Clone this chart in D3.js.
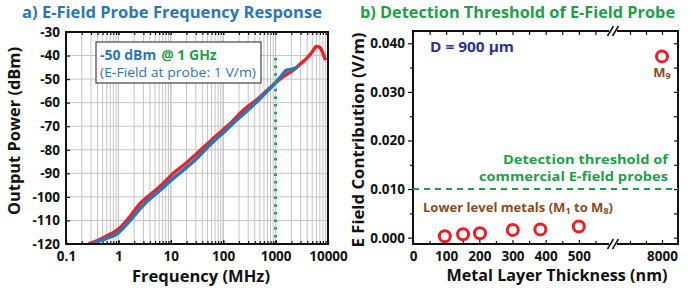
<!DOCTYPE html>
<html>
<head>
<meta charset="utf-8">
<script src="https://cdn.jsdelivr.net/npm/d3@7"></script>
<style>
  body { margin: 0; background: #fff; }
  svg { display: block; font-family: "Open Sans", "DejaVu Sans", sans-serif; }
</style>
</head>
<body>
<svg id="chart" width="699" height="293"></svg>
<script>
// ---- data: panel a (frequency response) ----
const freqTicks = [0.1, 1, 10, 100, 1000, 10000];
const freqTickLabels = ["0.1", "1", "10", "100", "1000", "10000"];
const powerTicks = [-120, -110, -100, -90, -80, -70, -60, -50, -40, -30];

const redFreq  = [0.27, 0.45, 0.7, 0.9, 1.2, 1.6, 2, 2.6, 3.5, 5, 8, 10, 20, 30, 50, 70, 100, 150, 200, 300, 400, 600, 800, 1000, 1500, 2000, 2500, 3000, 4000, 5000, 6000, 7000, 8000, 9000];
const redPower = [-120, -118, -115.8, -114.5, -112, -108.8, -106, -102.8, -100.2, -97.4, -93.2, -91, -85.5, -82, -77.5, -74.5, -71.5, -68, -65, -61.5, -59.5, -56, -53.5, -51.5, -48.5, -46.8, -45, -43.5, -41, -38.5, -36.2, -36.6, -39, -42];
const blueFreq  = [0.3, 0.45, 0.7, 0.9, 1.2, 1.6, 2, 2.6, 3.5, 5, 8, 10, 20, 30, 50, 70, 100, 150, 200, 300, 400, 600, 800, 1000, 1300, 1600, 2000, 2400, 2800];
const bluePower = [-120.3, -118.6, -117, -116, -113.5, -110.5, -108, -105, -102, -99, -95, -93, -87.5, -84, -79, -75.8, -72.8, -69, -66.5, -63, -60.5, -56.5, -53.8, -51.5, -48.5, -46.3, -45.8, -45.3, -44.3];
const markerFreq = 1000;

// ---- data: panel b (detection threshold) ----
const thicknessTicks = [0, 100, 200, 300, 400, 500, 8000];
const thicknessMinor = [50, 150, 250, 350, 450, 550, 7900, 7950];
const fieldTicks = [0, 0.01, 0.02, 0.03, 0.04];
const fieldMinor = [0.005, 0.015, 0.025, 0.035];
const lowerThickness = [96, 151, 202, 301, 384, 500];
const lowerField = [0.0003, 0.0007, 0.0009, 0.0016, 0.0017, 0.0023];
const topThickness = [8000];
const topField = [0.0373];
const thresholdField = 0.010;

const BLUE = "#2e75b6", GREEN = "#1f9e4b", RED = "#e3262d", BROWN = "#8a4b1e", NAVY = "#2e3192";

const svg = d3.select("#chart");

// helper: text squeezed to a width
function label(g, x, y, txt, opts) {
  const t = g.append("text")
    .attr("x", x).attr("y", y)
    .attr("font-size", opts.size)
    .attr("font-weight", opts.weight || "bold")
    .attr("fill", opts.color || "#111")
    .attr("text-anchor", opts.anchor || "start")
    .text(txt);
  if (opts.rotate) t.attr("transform", `rotate(-90,${x},${y})`);
  if (opts.width) t.attr("textLength", opts.width).attr("lengthAdjust", "spacingAndGlyphs");
  return t;
}

function styleAxis(sel) {
  sel.select(".domain").remove();
  sel.selectAll("line").attr("stroke", "#111").attr("stroke-width", 1.2);
  sel.selectAll("text").attr("font-size", 13.5).attr("font-weight", "bold").attr("fill", "#111")
    .attr("font-family", "'Open Sans', sans-serif");
}

// ================= panel a =================
const A = { left: 66, right: 328, top: 32, bottom: 244 };
const xA = d3.scaleLog().domain([0.1, 10000]).range([A.left, A.right]);
const yA = d3.scaleLinear().domain([-120, -30]).range([A.bottom, A.top]);
const gA = svg.append("g");

label(gA, 22, 18, "a) E-Field Probe Frequency Response", { size: 16, color: BLUE, width: 300 });

// grid
const minorFreqs = [];
[0.1, 1, 10, 100, 1000].forEach(d => { for (let k = 1; k <= 10; k++) minorFreqs.push(d * k); });
gA.append("g").selectAll("line").data(minorFreqs).join("line")
  .attr("x1", d => xA(d)).attr("x2", d => xA(d))
  .attr("y1", A.top).attr("y2", A.bottom)
  .attr("stroke", "#c4c4c4").attr("stroke-width", 1);
gA.append("g").selectAll("line").data(powerTicks).join("line")
  .attr("x1", A.left).attr("x2", A.right)
  .attr("y1", d => yA(d)).attr("y2", d => yA(d))
  .attr("stroke", "#c4c4c4").attr("stroke-width", 1);

// minor ticks along top and bottom
gA.append("g").attr("transform", `translate(0,${A.top})`)
  .call(d3.axisTop(xA).tickValues(minorFreqs).tickSize(-3).tickFormat(""))
  .call(styleAxis);
gA.append("g").attr("transform", `translate(0,${A.bottom})`)
  .call(d3.axisBottom(xA).tickValues(minorFreqs).tickSize(-3).tickFormat(""))
  .call(styleAxis);

// clip
svg.append("defs").append("clipPath").attr("id", "clipA")
  .append("rect").attr("x", A.left).attr("y", A.top)
  .attr("width", A.right - A.left).attr("height", A.bottom - A.top);

const lineA = d3.line().x(d => xA(d[0])).y(d => yA(d[1])).curve(d3.curveMonotoneX);
const curves = gA.append("g").attr("clip-path", "url(#clipA)");
curves.append("path").datum(d3.zip(redFreq, redPower))
  .attr("d", lineA).attr("fill", "none").attr("stroke", RED)
  .attr("stroke-width", 3.5).attr("stroke-linejoin", "round");
curves.append("path").datum(d3.zip(blueFreq, bluePower))
  .attr("d", lineA).attr("fill", "none").attr("stroke", BLUE)
  .attr("stroke-width", 3.5).attr("stroke-linejoin", "round");

// 1 GHz marker
gA.append("line")
  .attr("x1", xA(markerFreq)).attr("x2", xA(markerFreq))
  .attr("y1", yA(-41)).attr("y2", A.bottom)
  .attr("stroke", "#22a34c").attr("stroke-width", 3)
  .attr("stroke-dasharray", "2.5,5.2");

// info box
gA.append("rect").attr("x", 96).attr("y", 42).attr("width", 165).attr("height", 41)
  .attr("fill", "#fff").attr("stroke", "#444").attr("stroke-width", 1.2);
const t1 = label(gA, 100, 60, "-50 dBm", { size: 14, color: BLUE });
const w1 = t1.node().getComputedTextLength();
label(gA, 100 + w1 + 5, 60, "@ 1 GHz", { size: 14, color: GREEN });
label(gA, 100, 77, "(E-Field at probe: 1 V/m)", { size: 13.5, weight: "normal", color: BLUE, width: 156 });

// frame
gA.append("rect").attr("x", A.left).attr("y", A.top)
  .attr("width", A.right - A.left).attr("height", A.bottom - A.top)
  .attr("fill", "none").attr("stroke", "#111").attr("stroke-width", 2);

// axes
gA.append("g").attr("transform", `translate(${A.left},0)`)
  .call(d3.axisLeft(yA).tickValues(powerTicks).tickFormat(d => String(d)).tickSize(-4).tickPadding(6))
  .call(styleAxis);
gA.append("g").attr("transform", `translate(0,${A.bottom})`)
  .call(d3.axisBottom(xA).tickValues(freqTicks)
    .tickFormat((d, i) => freqTickLabels[i]).tickSize(-4).tickPadding(7))
  .call(styleAxis);

label(gA, 20, 131, "Output Power (dBm)", { size: 16, anchor: "middle", rotate: true, width: 168 });
label(gA, 201, 282, "Frequency (MHz)", { size: 16, anchor: "middle", width: 138 });

// ================= panel b =================
const B = { left: 413, right: 678, top: 31, bottom: 244 };
const xB = d3.scaleLinear().domain([0, 600, 7850, 8050])
  .range([B.left, B.left + 199, B.left + 201, B.right]);
const yB = d3.scaleLinear().domain([-0.0013, 0.04253]).range([B.bottom, B.top]);
const gB = svg.append("g");

label(gB, 360, 18, "b) Detection Threshold of E-Field Probe", { size: 16, color: GREEN, width: 315 });

// frame
gB.append("rect").attr("x", B.left).attr("y", B.top)
  .attr("width", B.right - B.left).attr("height", B.bottom - B.top)
  .attr("fill", "none").attr("stroke", "#111").attr("stroke-width", 2);

// ticks
gB.append("g").attr("transform", `translate(${B.left},0)`)
  .call(d3.axisLeft(yB).tickValues(fieldTicks).tickFormat(d3.format(".3f")).tickSize(5).tickPadding(3))
  .call(styleAxis);
gB.append("g").attr("transform", `translate(${B.left},0)`)
  .call(d3.axisLeft(yB).tickValues(fieldMinor).tickSize(3).tickFormat(""))
  .call(styleAxis);
gB.append("g").attr("transform", `translate(${B.right},0)`)
  .call(d3.axisRight(yB).tickValues(fieldTicks.concat(fieldMinor)).tickSize(-4).tickFormat(""))
  .call(styleAxis);
gB.append("g").attr("transform", `translate(0,${B.bottom})`)
  .call(d3.axisBottom(xB).tickValues(thicknessTicks).tickFormat(d => String(d)).tickSize(-4).tickPadding(7))
  .call(styleAxis);
gB.append("g").attr("transform", `translate(0,${B.bottom})`)
  .call(d3.axisBottom(xB).tickValues(thicknessMinor).tickSize(-3).tickFormat(""))
  .call(styleAxis);
gB.append("g").attr("transform", `translate(0,${B.top})`)
  .call(d3.axisTop(xB).tickValues(thicknessTicks.concat(thicknessMinor)).tickSize(-4).tickFormat(""))
  .call(styleAxis);

// axis break marks
const bx = (xB(600) + xB(7850)) / 2;
[B.top, B.bottom].forEach(y => {
  gB.append("rect").attr("x", bx - 4).attr("y", y - 3).attr("width", 8).attr("height", 6).attr("fill", "#fff");
  [-2.5, 2.5].forEach(o => {
    gB.append("line")
      .attr("x1", bx + o - 3).attr("y1", y + 5)
      .attr("x2", bx + o + 3).attr("y2", y - 5)
      .attr("stroke", "#111").attr("stroke-width", 1.5);
  });
});

// threshold
gB.append("line")
  .attr("x1", B.left).attr("x2", B.right)
  .attr("y1", yB(thresholdField)).attr("y2", yB(thresholdField))
  .attr("stroke", GREEN).attr("stroke-width", 2).attr("stroke-dasharray", "6,5");
label(gB, 668, 164, "Detection threshold of", { size: 13, color: GREEN, anchor: "end", width: 165 });
label(gB, 668, 181, "commercial E-field probes", { size: 13, color: GREEN, anchor: "end", width: 189 });

// points
gB.append("g").selectAll("circle")
  .data(d3.zip(lowerThickness.concat(topThickness), lowerField.concat(topField)))
  .join("circle")
  .attr("cx", d => xB(d[0])).attr("cy", d => yB(d[1]))
  .attr("r", 5.5).attr("fill", "none").attr("stroke", "#ee1c25").attr("stroke-width", 3);

// annotations
label(gB, 430, 52, "D = 900 µm", { size: 15, color: NAVY, width: 84 });
const m9 = gB.append("text").attr("x", xB(topThickness[0])).attr("y", 77)
  .attr("text-anchor", "middle").attr("font-size", 13).attr("font-weight", "bold").attr("fill", BROWN);
m9.append("tspan").text("M");
m9.append("tspan").attr("font-size", 9).attr("dy", 2).text("9");
const low = gB.append("text").attr("x", 423).attr("y", 212)
  .attr("font-size", 13).attr("font-weight", "bold").attr("fill", BROWN)
  .attr("textLength", 190).attr("lengthAdjust", "spacingAndGlyphs");
low.append("tspan").text("Lower level metals (M");
low.append("tspan").attr("font-size", 9).attr("dy", 2).text("1");
low.append("tspan").attr("dy", -2).text(" to M");
low.append("tspan").attr("font-size", 9).attr("dy", 2).text("8");
low.append("tspan").attr("dy", -2).text(")");

label(gB, 364, 140, "E Field Contribution (V/m)", { size: 16, anchor: "middle", rotate: true, width: 215 });
label(gB, 557, 281, "Metal Layer Thickness (nm)", { size: 16, anchor: "middle", width: 221 });
</script>
</body>
</html>
